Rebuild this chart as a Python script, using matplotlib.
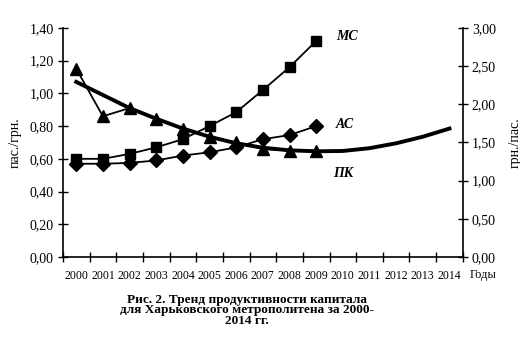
import matplotlib
matplotlib.use('Agg')
import matplotlib.pyplot as plt
import numpy as np

# данные с графика
years = ['2000', '2001', '2002', '2003', '2004', '2005', '2006', '2007',
         '2008', '2009', '2010', '2011', '2012', '2013', '2014']
mc = [0.60, 0.60, 0.63, 0.67, 0.72, 0.80, 0.885, 1.02, 1.16, 1.32]
ac = [0.57, 0.57, 0.575, 0.59, 0.62, 0.64, 0.67, 0.72, 0.745, 0.80]
pk = [1.15, 0.86, 0.91, 0.845, 0.785, 0.735, 0.70, 0.66, 0.65, 0.65]
pk_trend = [1.07, 0.99, 0.91, 0.845, 0.785, 0.735, 0.695, 0.668, 0.652,
            0.646, 0.648, 0.665, 0.695, 0.735, 0.785]
left_ticks = [0.0, 0.2, 0.4, 0.6, 0.8, 1.0, 1.2, 1.4]
right_ticks = [0.0, 0.5, 1.0, 1.5, 2.0, 2.5, 3.0]

plt.rcParams['font.family'] = ['Liberation Serif', 'DejaVu Serif']

fig = plt.figure(figsize=(5.2, 3.4), dpi=100)
ax = fig.add_axes([0.121, 0.244, 0.769, 0.674])

x = np.arange(len(years))
ax.plot(x[:len(pk_trend)], pk_trend, color='black', lw=2.8, zorder=2)
ax.plot(x[:len(mc)], mc, color='black', lw=1.3, marker='s', ms=6.5, zorder=3)
ax.plot(x[:len(ac)], ac, color='black', lw=1.3, marker='D', ms=7, zorder=3)
ax.plot(x[:len(pk)], pk, color='black', lw=1.3, marker='^', ms=8.5, zorder=3)

ax.text(9.75, mc[-1] + 0.03, 'МС', fontsize=10, style='italic', fontweight='bold', va='center')
ax.text(9.75, ac[-1] + 0.01, 'АС', fontsize=10, style='italic', fontweight='bold', va='center')
ax.text(9.65, 0.51, 'ПК', fontsize=10, style='italic', fontweight='bold', va='center')

ax.set_xlim(-0.5, len(years) - 0.5)
ax.set_ylim(0, 1.4)
ax.set_yticks(left_ticks)
ax.set_yticklabels([f'{v:.2f}'.replace('.', ',') for v in left_ticks], fontsize=10)
ax.set_xticks(np.arange(-0.5, len(years), 1))
ax.set_xticklabels([])
ax.set_xticks(x, minor=True)
ax.set_xticklabels(years, minor=True, fontsize=8.5)
ax.tick_params(axis='x', which='major', direction='inout', length=7, width=1)
ax.tick_params(axis='x', which='minor', length=0, pad=9)
ax.tick_params(axis='y', direction='inout', length=7, width=1, pad=3)
ax.spines['top'].set_visible(False)
ax.spines['right'].set_visible(False)
for s in ['left', 'bottom']:
    ax.spines[s].set_linewidth(1.2)
ax.set_ylabel('пас./грн.', fontsize=10, labelpad=6)

ax2 = ax.twinx()
ax2.set_ylim(0, 3.0)
ax2.set_yticks(right_ticks)
ax2.set_yticklabels([f'{v:.2f}'.replace('.', ',') for v in right_ticks], fontsize=10)
ax2.tick_params(axis='y', direction='inout', length=7, width=1, pad=3)
ax2.spines['top'].set_visible(False)
ax2.spines['left'].set_visible(False)
ax2.spines['bottom'].set_visible(False)
ax2.spines['right'].set_linewidth(1.2)
ax2.set_ylabel('грн./пас.', fontsize=10, labelpad=9)

fig.text(483 / 520, 1 - 275 / 340, 'Годы', fontsize=9, ha='center', va='center')

caption = ['Рис. 2. Тренд продуктивности капитала',
           'для Харьковского метрополитена за 2000-',
           '2014 гг.']
for i, line in enumerate(caption):
    fig.text(247 / 520, 1 - (300 + 10.5 * i) / 340, line, fontsize=9.5,
             fontweight='bold', ha='center', va='center')

fig.savefig('out.png', dpi=100)
